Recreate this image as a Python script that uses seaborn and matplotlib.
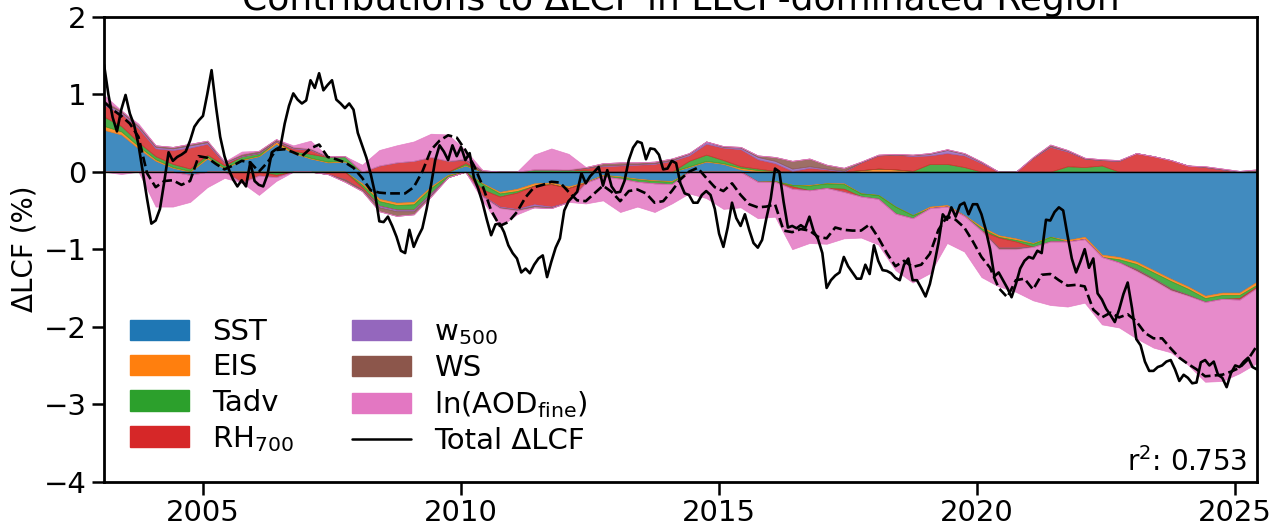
import numpy as np
import pandas as pd
import matplotlib
matplotlib.use("Agg")
import matplotlib.pyplot as plt
import seaborn as sns
from matplotlib.patches import Patch
from matplotlib.lines import Line2D

# ---------------- data ----------------
# component contributions, every 4 months from 2003-02 to 2025-06
sst = [0.54, 0.48, 0.30, 0.14, 0.05, -0.04, 0.17, 0.04, 0.15, 0.20,
       0.36, 0.24, 0.17, 0.12, 0.13, -0.15, -0.35, -0.40, -0.39, -0.19,
       -0.04, 0.08, -0.15, -0.26, -0.22, -0.15, -0.14, -0.19, -0.13, -0.04,
       -0.06, -0.09, -0.11, -0.12, 0.06, 0.13, 0.10, 0.03, -0.13, -0.12,
       -0.17, -0.17, -0.15, -0.15, -0.28, -0.30, -0.45, -0.56, -0.45, -0.43,
       -0.56, -0.71, -0.82, -0.86, -0.92, -0.84, -0.88, -0.84, -1.07, -1.10,
       -1.16, -1.27, -1.38, -1.48, -1.60, -1.56, -1.56, -1.42]
eis = [0.05, 0.04, 0.03, 0.02, 0.01, 0.01, 0.02, 0.01, 0.01, 0.01,
       0.03, 0.01, 0.01, 0.01, 0.01, -0.02, -0.03, -0.03, -0.03, -0.02,
       -0.01, 0.01, -0.01, -0.02, -0.03, -0.03, -0.02, -0.02, -0.01, -0.01,
       -0.01, -0.01, -0.01, -0.01, 0.01, 0.01, 0.01, 0.02, 0.02, 0.01,
       0.01, -0.01, 0.01, -0.01, 0.02, 0.04, 0.03, 0.01, -0.02, -0.02,
       -0.01, -0.02, -0.02, -0.02, -0.01, 0.00, -0.02, -0.03, -0.03, -0.03,
       -0.03, -0.03, -0.03, -0.03, -0.03, -0.03, -0.03, -0.04]
tadv = [0.12, 0.07, 0.05, 0.04, 0.04, 0.03, 0.03, 0.03, 0.04, 0.03,
        -0.04, 0.02, 0.05, 0.06, 0.06, -0.03, -0.06, -0.06, -0.07, -0.07,
        -0.02, 0.02, -0.07, -0.04, -0.02, 0.03, 0.03, 0.02, 0.02, -0.01,
        -0.02, -0.03, -0.03, -0.03, 0.07, 0.08, 0.04, 0.02, 0.02, -0.01,
        -0.02, -0.06, -0.06, -0.06, -0.04, -0.05, -0.09, -0.04, 0.10, 0.10,
        0.06, -0.03, -0.01, -0.02, -0.04, -0.06, 0.07, 0.06, 0.08, -0.04,
        -0.07, -0.08, -0.10, -0.08, -0.05, -0.05, -0.04, -0.02]
rh700 = [0.15, 0.16, 0.18, 0.10, 0.18, 0.27, 0.14, 0.03, -0.14, -0.05,
         -0.03, 0.03, 0.05, -0.03, -0.10, -0.03, 0.08, 0.12, 0.14, 0.19,
         0.14, 0.04, -0.08, -0.13, -0.21, -0.24, -0.29, -0.18, 0.03, 0.07,
         0.08, 0.09, 0.10, 0.14, 0.07, 0.14, 0.16, 0.22, 0.12, 0.10,
         -0.03, 0.05, 0.02, -0.04, 0.10, 0.17, 0.19, 0.19, 0.11, 0.14,
         0.15, 0.11, -0.13, -0.08, 0.18, 0.32, 0.19, 0.11, 0.07, 0.14,
         0.24, 0.20, 0.15, 0.08, 0.06, 0.03, -0.02, -0.02]
w500 = [0.03, 0.02, 0.02, 0.02, 0.02, 0.03, 0.02, 0.01, 0.01, 0.01,
        0.01, 0.01, 0.01, 0.00, 0.00, 0.00, -0.02, -0.02, -0.02, -0.02,
        0.00, 0.01, -0.01, -0.01, -0.01, -0.02, -0.01, 0.00, 0.00, 0.01,
        0.01, 0.01, 0.01, 0.01, 0.02, 0.03, 0.01, 0.02, 0.03, 0.03,
        0.03, 0.02, 0.01, 0.01, 0.00, 0.00, 0.00, 0.01, 0.02, 0.04,
        0.02, 0.01, 0.00, 0.00, 0.00, 0.01, 0.01, 0.00, 0.00, 0.00,
        0.00, 0.00, 0.00, 0.00, 0.00, 0.00, 0.00, 0.00]
ws = [0.03, 0.02, 0.02, 0.02, 0.02, 0.02, 0.02, 0.01, 0.02, 0.02,
      0.02, 0.01, 0.01, 0.01, -0.03, -0.02, -0.05, -0.06, -0.04, -0.02,
      0.00, 0.01, 0.02, -0.01, -0.01, -0.02, -0.01, 0.01, 0.01, 0.03,
      0.03, 0.02, 0.02, 0.02, 0.01, 0.00, 0.01, 0.01, 0.02, 0.05,
      0.10, 0.10, 0.05, 0.04, 0.01, 0.01, 0.01, 0.01, 0.01, 0.01,
      0.01, 0.01, -0.02, -0.02, 0.01, 0.02, 0.01, 0.01, 0.01, 0.01,
      -0.02, -0.02, -0.02, -0.01, 0.01, 0.01, 0.01, 0.03]
ln_aod = [0.07, -0.03, 0.02, -0.45, -0.45, -0.35, -0.20, -0.08, 0.03, -0.25,
          -0.05, 0.02, 0.10, 0.00, 0.00, 0.09, 0.20, 0.22, 0.25, 0.30,
          0.34, 0.11, -0.05, -0.24, -0.05, 0.19, 0.27, 0.20, -0.27, -0.31,
          -0.43, -0.32, -0.37, -0.25, -0.28, -0.34, -0.48, -0.46, -0.47, -0.45,
          -0.78, -0.68, -0.72, -0.60, -0.53, -0.59, -0.73, -0.83, -0.84, -0.47,
          -0.46, -0.60, -0.48, -0.55, -0.69, -0.82, -0.84, -0.82, -0.87, -0.84,
          -0.87, -0.87, -0.80, -0.89, -1.03, -1.06, -0.95, -0.97]

# predicted (dashed) dLCF, every 2 months from 2003-02 to 2025-06
predicted = [0.90, 0.80, 0.72, 0.62, 0.45, -0.02,
             -0.20, -0.12, -0.11, -0.17, -0.12, 0.20,
             0.18, 0.10, 0.03, 0.08, 0.14, 0.12,
             0.00, 0.12, 0.28, 0.29, 0.25, 0.20,
             0.30, 0.35, 0.19, 0.16, 0.12, 0.05,
             -0.08, -0.24, -0.27, -0.28, -0.28, -0.28,
             -0.20, 0.00, 0.28, 0.40, 0.47, 0.44,
             0.28, 0.08, -0.18, -0.50, -0.70, -0.65,
             -0.52, -0.33, -0.20, -0.17, -0.13, -0.14,
             -0.26, -0.37, -0.38, -0.28, -0.18, -0.26,
             -0.38, -0.25, -0.23, -0.28, -0.40, -0.38,
             -0.25, -0.10, 0.00, 0.05, -0.08, -0.20,
             -0.25, -0.15, -0.30, -0.42, -0.46, -0.45,
             -0.42, -0.76, -0.78, -0.74, -0.76, -0.84,
             -0.86, -0.72, -0.75, -0.76, -0.76, -0.68,
             -0.85, -1.05, -1.22, -1.15, -1.23, -1.20,
             -1.06, -0.75, -0.58, -0.62, -0.72, -0.90,
             -1.10, -1.24, -1.50, -1.62, -1.40, -1.38,
             -1.52, -1.33, -1.32, -1.40, -1.47, -1.46,
             -1.48, -1.78, -1.88, -1.82, -1.88, -1.84,
             -1.93, -2.08, -2.15, -2.15, -2.28, -2.40,
             -2.48, -2.55, -2.64, -2.63, -2.62, -2.58,
             -2.53, -2.42, -2.25]

# observed total dLCF, monthly from 2003-02 to 2025-06
total = [1.38, 1.00, 0.70, 0.52, 0.80, 0.99, 0.75, 0.60, 0.35, 0.00, -0.35,
         -0.67, -0.63, -0.48, -0.13, 0.25, 0.14, 0.19, 0.22, 0.26, 0.40, 0.58, 0.66,
         0.72, 1.00, 1.31, 0.85, 0.45, 0.20, 0.03, -0.10, -0.19, -0.11, -0.19, 0.12,
         -0.12, -0.17, -0.19, -0.04, 0.25, 0.29, 0.32, 0.62, 0.85, 1.01, 0.93, 0.88,
         0.92, 1.18, 1.08, 1.27, 1.05, 1.12, 1.18, 0.93, 0.88, 0.82, 0.88, 0.80,
         0.50, 0.34, 0.18, -0.03, -0.28, -0.64, -0.65, -0.58, -0.70, -0.84, -1.02, -1.05,
         -0.75, -0.97, -0.84, -0.73, -0.48, -0.18, 0.15, 0.34, 0.26, 0.15, 0.34, 0.20,
         0.32, 0.15, 0.24, -0.08, -0.22, -0.40, -0.62, -0.82, -0.68, -0.67, -0.78, -0.95,
         -1.05, -1.12, -1.30, -1.25, -1.31, -1.20, -1.12, -1.08, -1.36, -1.16, -0.98, -0.86,
         -0.50, -0.38, -0.32, -0.26, -0.02, -0.15, -0.06, 0.00, 0.06, -0.18, 0.02, -0.19,
         -0.27, -0.26, -0.12, 0.15, 0.31, 0.39, 0.37, 0.16, 0.30, 0.29, 0.22, 0.03,
         0.04, 0.14, 0.11, -0.15, -0.28, -0.30, -0.40, -0.40, -0.30, -0.25, -0.30, -0.48,
         -0.80, -0.97, -0.72, -0.40, -0.60, -0.70, -0.55, -0.75, -0.92, -0.98, -0.88, -0.60,
         -0.35, 0.04, 0.00, -0.39, -0.72, -0.70, -0.73, -0.69, -0.73, -0.58, -0.77, -0.87,
         -1.05, -1.50, -1.40, -1.34, -1.30, -1.10, -1.22, -1.30, -1.38, -1.38, -1.20, -1.32,
         -0.95, -1.15, -1.27, -1.28, -1.31, -1.37, -1.40, -1.20, -1.12, -1.40, -1.40, -1.50,
         -1.61, -1.45, -1.20, -0.92, -0.55, -0.62, -0.46, -0.58, -0.43, -0.40, -0.55, -0.42,
         -0.42, -0.55, -0.75, -1.00, -1.35, -1.30, -1.40, -1.50, -1.62, -1.45, -1.25, -1.15,
         -1.10, -1.12, -1.02, -1.05, -0.62, -0.63, -0.52, -0.46, -0.50, -0.82, -1.12, -1.30,
         -1.16, -1.00, -1.24, -1.12, -1.57, -1.65, -1.77, -1.85, -1.94, -1.78, -1.58, -1.43,
         -1.76, -2.16, -2.24, -2.45, -2.57, -2.57, -2.52, -2.50, -2.45, -2.43, -2.55, -2.70,
         -2.62, -2.66, -2.73, -2.72, -2.46, -2.43, -2.50, -2.45, -2.62, -2.66, -2.78, -2.60,
         -2.50, -2.52, -2.45, -2.40, -2.52, -2.55]

labels = ['SST', 'EIS', 'Tadv', 'RH$_{700}$', 'w$_{500}$', 'WS',
          'ln(AOD$_{\\mathrm{fine}}$)']
total_label = 'Total ΔLCF'
colors = ['#1f77b4', '#ff7f0e', '#2ca02c', '#d62728', '#9467bd', '#8c564b', '#e377c2']
r2_text = 'r$^2$: 0.753'
title = 'Contributions to ΔLCF in LLCF-dominated Region'
year_ticks = [2005, 2010, 2015, 2020, 2025]


def decimal_year(idx):
    return np.asarray(idx.year + (idx.month - 1) / 12.0, dtype=float)


comp_x = decimal_year(pd.date_range('2003-02-01', '2025-06-01', freq='4MS'))
pred_x = decimal_year(pd.date_range('2003-02-01', '2025-06-01', freq='2MS'))
total_x = decimal_year(pd.date_range('2003-02-01', '2025-06-01', freq='MS'))

# ---------------- plotting ----------------
sns.set_theme(style="ticks")
plt.rcParams['font.family'] = ['DejaVu Sans']
plt.rcParams['axes.unicode_minus'] = True
for key in ['text.color', 'axes.labelcolor', 'xtick.color', 'ytick.color']:
    plt.rcParams[key] = 'black'

fig = plt.figure(figsize=(12.72, 5.31), dpi=100)
ax = fig.add_axes([0.0818, 0.0928, 0.9062, 0.8758])

comps = [np.asarray(c, dtype=float) for c in [sst, eis, tadv, rh700, w500, ws, ln_aod]]
pos = [np.clip(c, 0, None) for c in comps]
neg = [np.clip(c, None, 0) for c in comps]
ax.stackplot(comp_x, pos, colors=colors, alpha=0.85, edgecolor='face', linewidth=0.5)
ax.stackplot(comp_x, neg, colors=colors, alpha=0.85, edgecolor='face', linewidth=0.5)
ax.axhline(0, color='black', lw=1.0, zorder=3)

sns.lineplot(x=pred_x, y=predicted, color='black', lw=1.9, linestyle='--',
             estimator=None, ax=ax, zorder=4)
sns.lineplot(x=total_x, y=total, color='black', lw=1.9,
             estimator=None, ax=ax, zorder=5)

ax.set_xlim(total_x[0], total_x[-1])
ax.set_ylim(-4, 2)
ax.set_xticks(year_ticks)
ax.set_xticklabels([str(y) for y in year_ticks])
ax.set_yticks(range(-4, 3))
ax.tick_params(axis='both', labelsize=21, length=9, width=1.8, direction='out', color='black')
for sp in ax.spines.values():
    sp.set_linewidth(2.0)
    sp.set_color('black')

ax.set_ylabel('ΔLCF (%)', fontsize=20)
ax.set_xlabel('')
ax.set_title(title, fontsize=26, pad=5)

handles = [Patch(facecolor=c, edgecolor=c) for c in colors]
handles.append(Line2D([0], [0], color='black', lw=1.8))
ax.legend(handles, labels + [total_label], loc='lower left', ncol=2,
          frameon=False, fontsize=21, labelspacing=0.25)

ax.text(0.992, 0.01, r2_text, transform=ax.transAxes, ha='right', va='bottom', fontsize=20)

fig.savefig('out.png', dpi=100)
